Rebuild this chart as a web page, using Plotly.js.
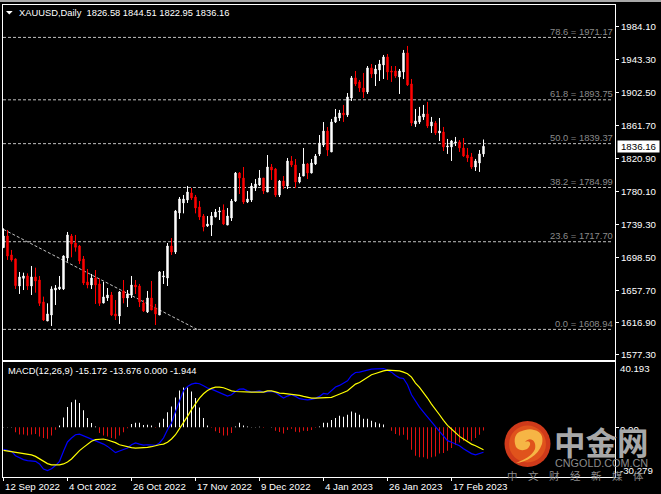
<!DOCTYPE html>
<html>
<head>
<meta charset="utf-8">
<script src="https://cdn.plot.ly/plotly-3.0.1.min.js"></script>
<style>
html, body { margin: 0; padding: 0; background: #000; overflow: hidden; }
</style>
</head>
<body>
<div id="chart1" style="width:661px;height:494px;"></div>
<script>
var opens = [
    1710.4,1724.8,1701.3,1696.3,1662.8,1672.3,1675.2,1662.8,1674.0,1670.2,
    1643.0,1619.4,1626.8,1657.8,1659.1,1659.1,1697.5,1724.8,1716.1,1712.4,
    1696.3,1667.8,1664.0,1672.7,1665.3,1641.7,1647.9,1651.6,1628.1,1625.6,
    1656.6,1647.9,1651.6,1664.0,1662.8,1641.7,1630.6,1647.9,1635.5,1626.8,
    1674.0,1672.7,1712.4,1705.0,1753.4,1765.8,1769.5,1778.2,1773.2,1760.8,
    1749.6,1737.2,1738.5,1748.4,1754.6,1757.1,1738.4,1747.1,1768.2,1802.9,
    1796.7,1767.0,1769.5,1784.3,1788.1,1796.7,1779.4,1810.4,1807.9,1775.7,
    1793.0,1786.8,1817.8,1812.9,1791.8,1799.2,1814.1,1803.0,1814.1,1826.5,
    1837.7,1855.0,1829.1,1866.3,1871.2,1877.4,1875.0,1896.0,1920.9,1915.9,
    1908.4,1903.5,1933.3,1925.8,1930.8,1937.0,1946.9,1929.5,1929.5,1922.1,
    1928.3,1951.9,1913.4,1863.8,1866.3,1872.5,1876.2,1861.3,1865.0,1852.6,
    1853.9,1835.3,1835.3,1840.2,1841.5,1834.0,1825.3,1822.9,1810.4,1815.4,
    1826.58
];
var highs = [
    1734.3,1732.3,1707.5,1697.1,1680.2,1679.3,1678.5,1687.6,1685.5,1675.2,
    1649.6,1641.3,1662.4,1664.0,1675.2,1700.8,1729.8,1727.3,1726.1,1713.7,
    1700.0,1683.9,1677.7,1682.6,1672.3,1667.8,1660.3,1655.4,1645.4,1656.6,
    1670.2,1657.8,1675.2,1670.2,1665.3,1645.4,1656.6,1669.0,1640.5,1681.4,
    1681.4,1716.1,1722.3,1757.1,1773.2,1775.7,1786.9,1784.4,1775.7,1768.2,
    1752.1,1749.6,1754.6,1758.3,1760.8,1764.0,1759.5,1770.7,1804.2,1804.2,
    1810.4,1780.6,1790.5,1795.5,1806.7,1796.7,1825.3,1814.1,1809.2,1794.3,
    1799.2,1821.6,1824.0,1820.3,1802.9,1834.0,1815.4,1820.3,1826.5,1850.1,
    1866.2,1860.0,1870.0,1882.4,1881.2,1887.4,1902.2,1923.3,1929.5,1918.4,
    1927.1,1935.7,1938.2,1937.0,1943.2,1949.4,1950.6,1935.7,1935.7,1932.0,
    1955.6,1960.6,1919.6,1882.4,1884.9,1887.4,1891.1,1872.5,1867.5,1871.2,
    1860.1,1845.2,1843.9,1847.7,1843.9,1846.4,1834.0,1827.8,1820.4,1831.5,
    1844.51
];
var lows = [
    1710.4,1695.1,1693.0,1659.1,1652.9,1657.8,1657.8,1651.6,1654.5,1638.0,
    1619.4,1619.4,1613.2,1639.2,1657.8,1657.8,1693.0,1698.4,1705.4,1690.1,
    1664.0,1659.9,1659.1,1640.5,1638.0,1641.3,1644.2,1625.6,1620.6,1615.7,
    1641.3,1636.7,1647.9,1652.9,1636.7,1630.6,1629.3,1633.0,1614.4,1626.8,
    1665.3,1662.8,1701.3,1702.5,1745.9,1752.9,1765.8,1769.5,1752.9,1744.7,
    1730.6,1736.0,1724.8,1748.0,1744.7,1738.4,1738.4,1743.4,1767.0,1776.9,
    1764.5,1765.7,1767.0,1780.6,1786.8,1776.9,1779.4,1794.3,1773.2,1773.2,
    1783.1,1783.1,1810.4,1784.3,1790.1,1799.2,1795.5,1802.5,1812.9,1824.0,
    1835.2,1824.0,1829.1,1865.0,1867.5,1866.3,1872.5,1892.3,1910.9,1903.5,
    1896.0,1901.0,1920.9,1910.9,1917.1,1919.6,1918.4,1915.9,1920.9,1901.0,
    1919.6,1910.9,1861.3,1860.1,1863.8,1868.8,1858.8,1852.6,1850.1,1842.7,
    1830.3,1826.6,1817.9,1836.5,1829.1,1822.9,1816.7,1808.0,1805.5,1804.3,
    1822.95
];
var closes = [
    1724.8,1700.0,1695.1,1663.2,1674.0,1675.2,1662.8,1674.0,1669.0,1641.3,
    1620.6,1628.1,1659.1,1660.3,1661.6,1700.0,1726.1,1714.9,1710.8,1693.8,
    1666.5,1664.0,1672.7,1664.0,1641.3,1649.2,1651.6,1626.8,1625.6,1655.4,
    1647.9,1652.9,1664.0,1661.6,1643.0,1631.8,1647.9,1633.0,1628.1,1680.2,
    1675.2,1712.4,1705.0,1755.8,1770.7,1770.7,1779.4,1772.0,1759.6,1748.4,
    1736.0,1739.7,1749.6,1754.6,1755.8,1739.7,1749.6,1768.2,1802.9,1796.7,
    1767.0,1770.7,1786.8,1789.3,1796.7,1780.6,1810.4,1806.7,1775.7,1793.0,
    1786.8,1817.8,1812.9,1791.8,1798.0,1814.1,1803.0,1815.4,1824.0,1840.2,
    1855.0,1831.5,1866.3,1872.5,1877.4,1875.0,1897.3,1920.9,1913.4,1908.4,
    1903.5,1933.3,1925.8,1932.0,1938.2,1946.9,1928.3,1928.3,1923.3,1929.5,
    1951.9,1912.2,1865.0,1867.5,1873.7,1876.2,1861.3,1866.3,1852.6,1855.1,
    1835.3,1836.5,1842.7,1841.5,1834.0,1824.1,1821.6,1810.4,1817.9,1826.6,
    1836.16
];

var histValues = [
    0.3,0.3,0.3,-3.0,-4.4,-4.4,-4.9,-4.4,-4.0,-5.5,
    -6.5,-6.9,-5.0,-1.4,1.2,6.1,12.4,15.4,16.8,14.8,
    10.4,5.7,2.6,0.6,-3.5,-5.0,-5.5,-6.5,-6.9,-5.0,
    -3.0,-0.6,2.0,2.8,2.8,1.4,1.6,1.2,-0.2,2.8,
    5.3,9.3,12.8,18.3,22.5,24.4,24.4,21.9,17.9,12.2,
    5.7,1.2,-0.2,-2.4,-3.5,-5.0,-5.0,-3.5,0.6,2.8,
    1.2,0.6,0.2,0.2,0.4,-0.3,0,0.2,-2.0,-2.8,
    -3.7,-1.6,-0.8,-2.6,-3.0,-2.0,-2.2,-1.6,-0.3,0.6,
    2.8,2.8,4.5,5.7,7.1,6.5,7.7,9.7,8.9,7.7,
    5.3,5.3,4.1,3.2,2.4,1.8,0,-2.0,-4.1,-4.9,
    -4.5,-7.5,-13.6,-17.3,-18.3,-18.3,-19.1,-18.3,-17.7,-16.0,
    -15.6,-14.2,-12.6,-10.6,-9.3,-8.1,-7.9,-8.1,-6.5,-4.5,
    -1.944
];
var macdLine = [
    -13.4,-14.2,-14.6,-17.3,-18.5,-19.7,-20.3,-20.7,-20.7,-22.3,
    -25.4,-26.4,-25.2,-23.3,-20.7,-14.6,-8.9,-6.5,-4.5,-4.1,
    -5.1,-6.3,-6.9,-8.1,-8.9,-10.2,-11.6,-13.6,-15.4,-14.4,
    -13.4,-12.6,-10.6,-9.5,-10.2,-10.8,-10.6,-10.8,-11.0,-9.5,
    -6.5,-1.4,2.6,9.7,16.8,22.5,25.0,26.4,27.0,26.6,
    25.4,24.0,23.3,22.3,21.3,19.9,19.1,19.9,21.9,23.3,
    23.5,22.3,21.5,21.9,22.3,21.5,21.5,21.9,21.3,19.5,
    17.9,19.1,19.9,18.9,17.5,17.1,16.8,17.1,17.7,18.9,
    20.7,20.3,22.7,24.6,25.6,27.0,28.4,31.7,33.5,33.7,
    34.3,35.3,35.5,35.7,35.9,35.9,34.9,33.7,31.7,30.2,
    29.8,26.0,19.9,15.8,12.4,9.3,6.1,3.2,0.4,-2.4,
    -5.5,-8.1,-9.1,-10.2,-11.2,-13.0,-14.6,-16.0,-16.8,-16.2,
    -15.172
];
var signalLine = [
    -14.0,-14.4,-14.6,-14.8,-15.4,-15.6,-16.0,-16.8,-17.7,-19.1,
    -20.7,-22.1,-22.9,-22.9,-22.9,-22.3,-21.1,-19.3,-16.6,-14.2,
    -12.2,-10.2,-8.5,-7.5,-7.1,-7.1,-7.7,-8.5,-9.3,-10.6,
    -11.2,-12.0,-12.4,-12.6,-12.6,-12.6,-12.2,-11.8,-11.0,-10.6,
    -10.2,-9.1,-7.1,-4.5,-0.8,2.6,6.7,10.8,14.4,17.9,
    20.5,22.5,23.8,24.6,24.6,24.2,23.3,22.3,21.9,21.7,
    21.7,21.5,21.5,21.5,21.5,21.5,22.3,22.3,21.7,20.9,
    20.7,20.5,20.1,19.7,19.5,18.9,18.3,17.9,17.9,17.9,
    17.9,17.9,18.3,19.3,20.5,21.3,22.3,24.4,26.4,27.4,
    29.0,30.5,32.1,32.9,33.9,34.5,34.9,34.9,34.9,34.5,
    33.7,32.7,30.7,27.0,24.4,21.3,17.9,14.2,11.2,7.7,
    4.3,1.2,-1.0,-3.5,-5.5,-7.1,-8.7,-10.2,-11.2,-12.2,
    -13.676
];

var dateIndex = [0, 16, 32, 48, 64, 80, 96, 112];
var dateLabels = ["12 Sep 2022", "4 Oct 2022", "26 Oct 2022", "17 Nov 2022",
    "9 Dec 2022", "4 Jan 2023", "26 Jan 2023", "17 Feb 2023"];
var priceTicks = [1984.10, 1943.30, 1902.50, 1861.70, 1820.90, 1780.10, 1739.30, 1698.50, 1657.70, 1616.90, 1577.30];
var fibLevels = ["78.6", "61.8", "50.0", "38.2", "23.6", "0.0"];
var fibPrices = [1971.17, 1893.75, 1839.37, 1784.99, 1717.70, 1608.94];
var trendIndex = [0, 48.4];
var trendPrice = [1733, 1608.94];

var barIndex = closes.map(function(c, i) { return i; });

var FONT = "Liberation Sans, Arial, sans-serif";
var CJK = "Noto Sans CJK SC";
var W = 661, H = 494;
function px(x) { return x / W; }
function py(y) { return 1 - y / H; }
// path in screen pixels -> paper coordinates
function paperPath(cmds) {
    return cmds.map(function(c) {
        var out = c[0], i;
        for (i = 1; i < c.length; i += 2) {
            out += " " + px(c[i]).toFixed(5) + "," + py(c[i + 1]).toFixed(5);
        }
        return out;
    }).join(" ") + " Z";
}

var chartData = [{
    type: "candlestick",
    x: barIndex,
    open: opens,
    high: highs,
    low: lows,
    close: closes,
    xaxis: "x",
    yaxis: "y",
    whiskerwidth: 0,
    increasing: { line: { color: "#ffffff", width: 1 }, fillcolor: "#ffffff" },
    decreasing: { line: { color: "#ff0000", width: 1 }, fillcolor: "#ff0000" },
    hoverinfo: "skip",
    showlegend: false
}, {
    type: "bar",
    x: barIndex,
    y: histValues,
    xaxis: "x2",
    yaxis: "y2",
    width: 0.25,
    marker: {
        color: histValues.map(function(v) { return v >= 0 ? "#ffffff" : "#e01010"; }),
        line: { width: 0 }
    },
    hoverinfo: "skip",
    showlegend: false
}, {
    type: "scatter",
    mode: "lines",
    x: barIndex,
    y: macdLine,
    xaxis: "x2",
    yaxis: "y2",
    line: { color: "#0000ff", width: 1.2 },
    hoverinfo: "skip",
    showlegend: false
}, {
    type: "scatter",
    mode: "lines",
    x: barIndex,
    y: signalLine,
    xaxis: "x2",
    yaxis: "y2",
    line: { color: "#ffff00", width: 1.2 },
    hoverinfo: "skip",
    showlegend: false
}];

var DASH = "3px,2px";
var shapes = [{
    type: "rect", xref: "paper", yref: "paper", layer: "below",
    x0: 0, x1: 1, y0: py(2), y1: 1,
    fillcolor: "#a8a8a8", line: { width: 0 }
}, {
    type: "line", xref: "x", yref: "y", layer: "below",
    x0: trendIndex[0], x1: trendIndex[1], y0: trendPrice[0], y1: trendPrice[1],
    line: { color: "#c0c0c0", width: 1, dash: DASH }
}, {
    // chart window menu arrow
    type: "path", xref: "paper", yref: "paper", layer: "above",
    path: paperPath([["M", 6, 11], ["L", 12.7, 11], ["L", 9.3, 14.5]]),
    fillcolor: "#ffffff", line: { width: 0 }
}];
fibPrices.forEach(function(p) {
    shapes.push({
        type: "line", xref: "paper", yref: "y", layer: "below",
        x0: px(3), x1: px(613), y0: p, y1: p,
        line: { color: "#c0c0c0", width: 1, dash: DASH }
    });
});
// watermark logo
shapes.push({
    type: "circle", xref: "paper", yref: "paper", layer: "above",
    x0: px(504.5), x1: px(550.5), y0: py(467), y1: py(421),
    fillcolor: "#cf3a1a", line: { width: 0 }
});
shapes.push({
    type: "circle", xref: "paper", yref: "paper", layer: "above",
    x0: px(509), x1: px(546), y0: py(462.5), y1: py(425.5),
    fillcolor: "#e0531c", line: { width: 0 }
});
shapes.push({
    type: "path", xref: "paper", yref: "paper", layer: "above",
    path: paperPath([
        ["M", 516, 463],
        ["C", 526, 462, 538, 456, 542, 444],
        ["C", 544, 436, 540, 431, 534, 430],
        ["C", 530, 428, 524, 430, 522, 431],
        ["C", 515, 432, 513, 440, 516, 447],
        ["C", 520, 452, 528, 451, 530, 445],
        ["C", 531, 442, 528, 440, 525, 442],
        ["C", 530, 436, 537, 441, 535, 449],
        ["C", 532, 456, 524, 460, 516, 463]
    ]),
    fillcolor: "#f6b545", line: { width: 0 }
});

function label(x, y, text, size, color, anchor, family) {
    return {
        xref: "paper", yref: "paper",
        x: px(x), y: py(y),
        text: text,
        showarrow: false,
        xanchor: anchor || "left",
        yanchor: "middle",
        font: { family: family || FONT, size: size, color: color },
        borderpad: 0
    };
}

var annotations = [
    label(17.5, 12.5, "XAUUSD,Daily&#160;&#160;1826.58 1844.51 1822.95 1836.16", 9.35, "#ffffff"),
    label(7, 371, "MACD(12,26,9) -15.172 -13.676 0.000 -1.944", 9.35, "#ffffff"),
    label(619, 368.5, "40.193", 9.7, "#ffffff"),
    label(619, 429, "0.00", 9.7, "#ffffff"),
    label(619, 470.7, "-30.279", 9.7, "#ffffff")
];
fibLevels.forEach(function(lev, i) {
    annotations.push({
        xref: "paper", yref: "y",
        x: px(613.5), y: fibPrices[i],
        yshift: 6,
        text: lev + " = " + fibPrices[i].toFixed(2),
        showarrow: false,
        xanchor: "right",
        yanchor: "middle",
        font: { family: FONT, size: 9.4, color: "#8a8a8a" },
        borderpad: 0
    });
});
dateIndex.forEach(function(ix, i) {
    annotations.push({
        xref: "x2", yref: "paper",
        x: ix, y: py(486.5),
        text: dateLabels[i],
        showarrow: false,
        xanchor: "left",
        yanchor: "middle",
        font: { family: FONT, size: 9.7, color: "#ffffff" },
        borderpad: 0
    });
});
annotations.push({
    xref: "paper", yref: "y",
    x: px(617), y: closes[closes.length - 1],
    text: closes[closes.length - 1].toFixed(2),
    showarrow: false,
    xanchor: "left",
    yanchor: "middle",
    width: 41,
    height: 11,
    align: "center",
    bgcolor: "#ffffff",
    font: { family: FONT, size: 9.7, color: "#000000" },
    borderpad: 0
});
annotations.push(label(601, 441, "<b>中金网</b>", 31.5, "#a8a8a8", "center", CJK));
annotations.push(label(601, 462.7, "CNGOLD.COM.CN", 10.8, "#8c8c8c", "center"));
annotations.push(label(575.5, 475.7, "中\u3000文\u3000财\u3000经\u3000新\u3000媒\u3000体", 10.5, "#8c8c8c", "center", CJK));

var xRange = [-0.125, 152.875];
var chartLayout = {
    width: W,
    height: H,
    margin: { l: 0, r: 0, t: 0, b: 0, pad: 0 },
    paper_bgcolor: "#000000",
    plot_bgcolor: "#000000",
    showlegend: false,
    boxgap: 0.5,
    barmode: "overlay",
    xaxis: {
        domain: [px(3), px(615)],
        range: xRange,
        anchor: "y",
        rangeslider: { visible: false },
        showgrid: false,
        zeroline: false,
        showline: true,
        mirror: true,
        linecolor: "#ffffff",
        linewidth: 1,
        ticks: "",
        showticklabels: false,
        fixedrange: true
    },
    yaxis: {
        domain: [py(359.5), py(4.5)],
        range: [1571.6, 2012.0],
        anchor: "x",
        side: "right",
        showgrid: false,
        zeroline: false,
        showline: true,
        mirror: true,
        linecolor: "#ffffff",
        linewidth: 1,
        ticks: "outside",
        ticklen: 3,
        tickcolor: "#ffffff",
        tickvals: priceTicks,
        ticktext: priceTicks.map(function(p) { return p.toFixed(2); }),
        tickfont: { family: FONT, size: 9.7, color: "#ffffff" },
        fixedrange: true
    },
    xaxis2: {
        domain: [px(3), px(615)],
        range: xRange,
        anchor: "y2",
        showgrid: false,
        zeroline: false,
        showline: true,
        mirror: true,
        linecolor: "#ffffff",
        linewidth: 1,
        ticks: "outside",
        ticklen: 3,
        tickcolor: "#ffffff",
        tickvals: dateIndex,
        showticklabels: false,
        fixedrange: true
    },
    yaxis2: {
        domain: [py(477), py(361.5)],
        range: [-30.279, 40.193],
        anchor: "x2",
        side: "right",
        showgrid: false,
        zeroline: false,
        showline: true,
        mirror: true,
        linecolor: "#ffffff",
        linewidth: 1,
        ticks: "outside",
        ticklen: 3,
        tickcolor: "#ffffff",
        tickvals: [0],
        showticklabels: false,
        fixedrange: true
    },
    shapes: shapes,
    annotations: annotations
};
var chartConfig = { displayModeBar: false, staticPlot: true };

Plotly.newPlot("chart1", chartData, chartLayout, chartConfig);
</script>
</body>
</html>
